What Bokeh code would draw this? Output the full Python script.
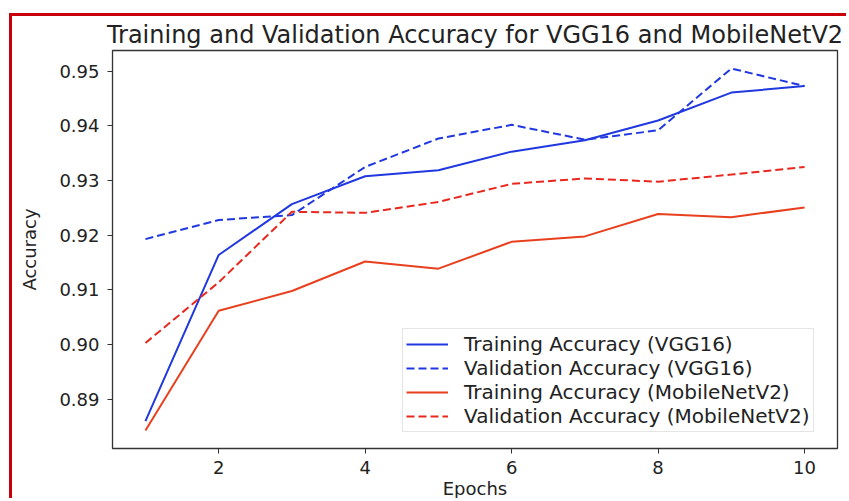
from bokeh.plotting import figure
from bokeh.models import FixedTicker, Range1d, Legend, LegendItem, NumeralTickFormatter
from bokeh.embed import file_html
from bokeh.resources import INLINE

epochs = [1, 2, 3, 4, 5, 6, 7, 8, 9, 10]
vgg_train = [0.8860, 0.9164, 0.9257, 0.9308, 0.9319, 0.9353, 0.9374, 0.9410, 0.9461, 0.9473]
vgg_val = [0.9193, 0.9228, 0.9237, 0.9325, 0.9377, 0.9402, 0.9375, 0.9392, 0.9505, 0.9473]
mob_train = [0.8843, 0.9062, 0.9098, 0.9152, 0.9139, 0.9188, 0.9198, 0.9239, 0.9233, 0.9251]
mob_val = [0.9003, 0.9114, 0.9243, 0.9241, 0.9261, 0.9294, 0.9304, 0.9298, 0.9311, 0.9325]
y_ticks = [0.89, 0.90, 0.91, 0.92, 0.93, 0.94, 0.95]
x_ticks = [2, 4, 6, 8, 10]

FONT = "DejaVu Sans"
BLUE = "#2038e0"
RED_SOLID = "#e8401e"
RED_DASH = "#e8281e"
BORDER_RED = "#c8000a"

p = figure(width=837, height=485, output_backend="svg", toolbar_location=None,
           x_range=Range1d(0.55, 10.45), y_range=Range1d(0.8810, 0.9538),
           min_border_left=100, min_border_right=12, min_border_top=34, min_border_bottom=53,
           title="Training and Validation Accuracy for VGG16 and MobileNetV2")
p.styles = {"margin-left": "9px", "margin-top": "13px",
            "border-left": f"3px solid {BORDER_RED}", "border-top": f"3px solid {BORDER_RED}"}

p.title.align = "center"
p.title.text_font = FONT
p.title.text_font_size = "24px"
p.title.text_font_style = "normal"
p.title.text_color = "#222222"
p.title.standoff = 4

p.grid.visible = False
p.outline_line_color = "#333333"
p.outline_line_width = 1.3
p.background_fill_color = "white"
p.border_fill_color = "white"

for ax in (p.xaxis[0], p.yaxis[0]):
    ax.axis_line_color = "#333333"
    ax.major_tick_line_color = "#333333"
    ax.major_tick_out = 5
    ax.major_tick_in = 0
    ax.minor_tick_line_color = None
    ax.major_label_text_font = FONT
    ax.major_label_text_font_size = "18px"
    ax.major_label_text_color = "#222222"
    ax.axis_label_text_font = FONT
    ax.axis_label_text_font_size = "18px"
    ax.axis_label_text_font_style = "normal"
    ax.axis_label_text_color = "#222222"

p.xaxis.ticker = FixedTicker(ticks=x_ticks)
p.yaxis.ticker = FixedTicker(ticks=y_ticks)
p.yaxis.formatter = NumeralTickFormatter(format="0.00")
p.xaxis.axis_label = "Epochs"
p.yaxis.axis_label = "Accuracy"
p.xaxis.major_label_standoff = 7
p.yaxis.major_label_standoff = 8
p.xaxis.axis_label_standoff = 1
p.yaxis.axis_label_standoff = 16

r1 = p.line(epochs, vgg_train, line_color=BLUE, line_width=2)
r2 = p.line(epochs, vgg_val, line_color=BLUE, line_width=2, line_dash="8 4")
r3 = p.line(epochs, mob_train, line_color=RED_SOLID, line_width=2)
r4 = p.line(epochs, mob_val, line_color=RED_DASH, line_width=2, line_dash="8 4")

legend = Legend(items=[
    LegendItem(label="Training Accuracy (VGG16)", renderers=[r1]),
    LegendItem(label="Validation Accuracy (VGG16)", renderers=[r2]),
    LegendItem(label="Training Accuracy (MobileNetV2)", renderers=[r3]),
    LegendItem(label="Validation Accuracy (MobileNetV2)", renderers=[r4]),
], location=(290, 16))
legend.label_text_font = FONT
legend.label_text_font_size = "20px"
legend.label_text_line_height = 0.95
legend.label_text_color = "#222222"
legend.glyph_width = 42
legend.glyph_height = 18
legend.label_height = 18
legend.label_standoff = 16
legend.spacing = -2
legend.padding = 3
legend.margin = 0
legend.border_line_color = "#cccccc"
legend.border_line_width = 1
legend.background_fill_alpha = 0.85
p.add_layout(legend, "center")

open("out.html", "w").write(file_html(p, INLINE))
